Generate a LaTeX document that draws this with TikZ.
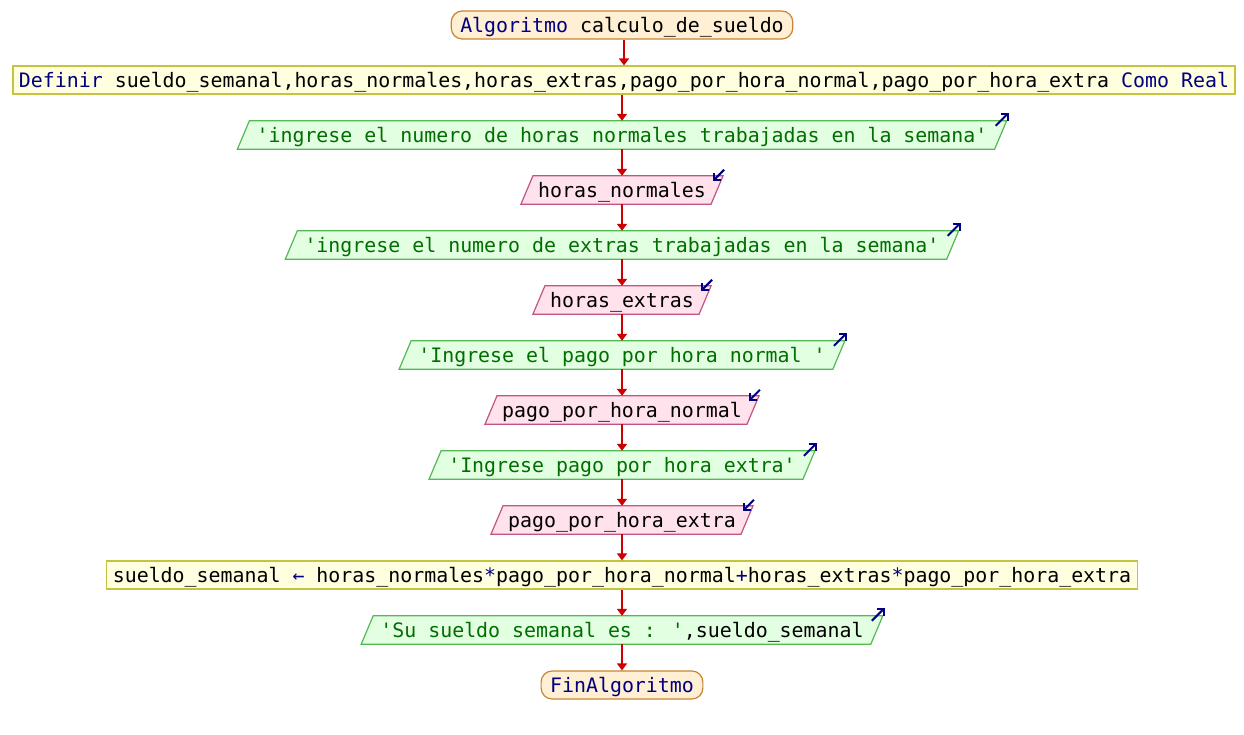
\documentclass[tikz,border=0pt]{standalone}
\usepackage{fontspec}
\newfontfamily\codefont{DejaVu Sans Mono}
\usetikzlibrary{arrows.meta,backgrounds}
\definecolor{kw}{RGB}{0,0,128}
\definecolor{str}{RGB}{0,110,0}
\definecolor{termfill}{RGB}{255,239,212}
\definecolor{termline}{RGB}{200,132,52}
\definecolor{procfill}{RGB}{255,255,224}
\definecolor{procline}{RGB}{196,196,64}
\definecolor{outfill}{RGB}{226,255,226}
\definecolor{outline}{RGB}{84,184,84}
\definecolor{infill}{RGB}{255,226,236}
\definecolor{inline}{RGB}{192,84,132}
\definecolor{flowred}{RGB}{204,0,0}
\newcommand\qq{\textquotesingle}
% slanted input/output box drawn behind a named node
\newcommand\slantbox[2]{%
  \begin{scope}[on background layer]
    \draw[#2] ([xshift=-6pt]#1.south west) -- ([xshift=6pt]#1.north west)
      -- ([xshift=6pt]#1.north east) -- ([xshift=-6pt]#1.south east) -- cycle;
  \end{scope}}
% small direction markers at the top right corner of i/o boxes
\newcommand\outmark[1]{\draw[iomark] ([xshift=6pt]#1.north east) ++(-11,5) -- ++(13,-13);}
\newcommand\inmark[1]{\draw[iomark] ([xshift=6pt]#1.north east) ++(1,-6) -- ++(-11,11);}
\begin{document}
\begin{tikzpicture}[x=1pt,y=-1pt,
  font=\codefont\fontsize{19.9}{24}\selectfont,
  base/.style={inner ysep=0pt, minimum height=28pt, text height=14.5pt, text depth=0pt},
  term/.style={base, draw=termline, fill=termfill, rounded corners=11pt, inner xsep=9pt, line width=1.2pt},
  proc/.style={base, draw=procline, fill=procfill, inner xsep=6pt, line width=1.2pt},
  outnode/.style={base, inner xsep=13pt},
  innode/.style={base, inner xsep=11pt},
  outshape/.style={fill=outfill, draw=outline, line width=1.2pt},
  inshape/.style={fill=infill, draw=inline, line width=1.2pt},
  iomark/.style={draw=kw, line width=2pt, -{Straight Barb[length=5pt,width=10pt]}},
  flow/.style={draw=flowred, line width=1.8pt, -{Triangle[width=10pt,length=7pt]}}]
\useasboundingbox (0,0) rectangle (1244,735);

\node[term] (start) at (622,25) {{\color{kw}Algoritmo} calculo\_de\_sueldo};
\node[proc] (def) at (624,80) {{\color{kw}Definir} sueldo\_semanal,horas\_normales,horas\_extras,pago\_por\_hora\_normal,pago\_por\_hora\_extra {\color{kw}Como Real}};
\node[outnode,text=str] (o1) at (622,135) {\qq ingrese el numero de horas normales trabajadas en la semana\qq};
\node[innode] (i1) at (622,190) {horas\_normales};
\node[outnode,text=str] (o2) at (622,245) {\qq ingrese el numero de extras trabajadas en la semana\qq};
\node[innode] (i2) at (622,300) {horas\_extras};
\node[outnode,text=str] (o3) at (622,355) {\qq Ingrese el pago por hora normal \qq};
\node[innode] (i3) at (622,410) {pago\_por\_hora\_normal};
\node[outnode,text=str] (o4) at (622,465) {\qq Ingrese pago por hora extra\qq};
\node[innode] (i4) at (622,520) {pago\_por\_hora\_extra};
\node[proc] (calc) at (622,575) {sueldo\_semanal {\color{kw}←} horas\_normales{\color{kw}*}pago\_por\_hora\_normal{\color{kw}+}horas\_extras{\color{kw}*}pago\_por\_hora\_extra};
\node[outnode] (o5) at (622,630) {{\color{str}\qq Su sueldo semanal es : \qq},sueldo\_semanal};
\node[term] (fin) at (622,685) {{\color{kw}FinAlgoritmo}};

\slantbox{o1}{outshape}
\slantbox{o2}{outshape}
\slantbox{o3}{outshape}
\slantbox{o4}{outshape}
\slantbox{o5}{outshape}
\slantbox{i1}{inshape}
\slantbox{i2}{inshape}
\slantbox{i3}{inshape}
\slantbox{i4}{inshape}

\outmark{o1}\outmark{o2}\outmark{o3}\outmark{o4}\outmark{o5}
\inmark{i1}\inmark{i2}\inmark{i3}\inmark{i4}

\draw[flow] (start.south -| def.north) -- (def.north);
\draw[flow] (def.south -| o1.north) -- (o1.north);
\draw[flow] (o1) -- (i1);
\draw[flow] (i1) -- (o2);
\draw[flow] (o2) -- (i2);
\draw[flow] (i2) -- (o3);
\draw[flow] (o3) -- (i3);
\draw[flow] (i3) -- (o4);
\draw[flow] (o4) -- (i4);
\draw[flow] (i4) -- (calc);
\draw[flow] (calc) -- (o5);
\draw[flow] (o5) -- (fin);
\end{tikzpicture}
\end{document}
